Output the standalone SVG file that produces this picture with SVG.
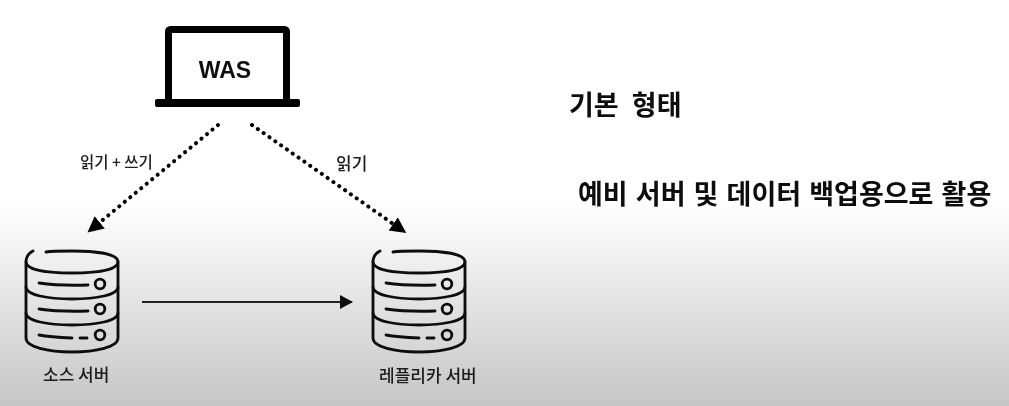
<svg xmlns="http://www.w3.org/2000/svg" xmlns:xlink="http://www.w3.org/1999/xlink" width="1009" height="406" viewBox="0 0 1009 406">
<style>
text{font-family:"Noto Sans CJK KR","Liberation Sans",sans-serif;fill:#1a1a1a}
.s{font-size:17px;font-weight:500}
.h{font-size:27px;font-weight:700;fill:#111}
.db{fill:none;stroke:#111;stroke-width:2.8;stroke-linecap:round}
.dot{fill:none;stroke:#000;stroke-width:4;stroke-linecap:round;stroke-dasharray:0.1 7}
</style>
<defs>
<filter id="soft" filterUnits="userSpaceOnUse" x="0" y="0" width="1009" height="406"><feGaussianBlur stdDeviation="0.4"/></filter>
<linearGradient id="bg" x1="0" y1="0" x2="0" y2="1"><stop offset="0" stop-color="#fff"/><stop offset="0.5" stop-color="#fff"/><stop offset="1" stop-color="#c6c6c6"/></linearGradient>
<marker id="a" markerUnits="userSpaceOnUse" markerWidth="20" markerHeight="20" refX="1" refY="8" orient="auto"><path d="M0 0L16 8L0 16Z" fill="#000"/></marker>
<marker id="b" markerUnits="userSpaceOnUse" markerWidth="16" markerHeight="16" refX="12" refY="7" orient="auto"><path d="M0 0L13 7L0 14Z" fill="#111"/></marker>
<g id="cyl">
<path class="db" d="M33 251C27 254 26 258 26 262C26 270 48 273 72 273C96 273 118 270 118 262C118 254 96 251 72 251C64 251 52 251 46 252"/>
<path class="db" d="M26 262V338C26 347 48 352 72 352C96 352 118 347 118 338V262"/>
<path class="db" d="M26 287C26 295 48 299 72 299C96 299 118 295 118 287"/>
<path class="db" d="M26 313C26 321 48 325 72 325C96 325 118 321 118 313"/>
<path class="db" d="M39 283Q60 286 88 285M39 309Q60 312 88 311M39 335Q50 337 72 338M80 338H87"/>
<circle class="db" cx="100" cy="284" r="4.8"/><circle class="db" cx="100" cy="309" r="4.8"/><circle class="db" cx="100" cy="335" r="4.8"/>
</g>
</defs>
<rect width="1009" height="406" fill="url(#bg)"/>
<g filter="url(#soft)">
<g id="connectors">
<path class="dot" d="M218 125L99 223" marker-end="url(#a)"/>
<path class="dot" d="M252 125L394 224.500" marker-end="url(#a)"/>
<path d="M142 302H352" fill="none" stroke="#222" stroke-width="1.8" marker-end="url(#b)"/>
<text class="s" x="80" y="168" style="font-size:15.500px">읽기 + 쓰기</text>
<text class="s" x="336" y="170">읽기</text>
</g>
<g id="was">
<rect x="168.500" y="29.500" width="118" height="73" rx="2" fill="#fff" stroke="#000" stroke-width="7"/>
<rect x="155" y="99" width="145" height="8" rx="2" fill="#000"/>
<text x="225" y="78" text-anchor="middle" style="font-family:'Liberation Sans',sans-serif;font-size:23px;font-weight:700;fill:#111">WAS</text>
</g>
<g id="source"><use xlink:href="#cyl"/><text class="s" x="43" y="381">소스 서버</text></g>
<g id="replica"><use xlink:href="#cyl" x="347"/><text class="s" x="379" y="382">레플리카 서버</text></g>
<g id="notes">
<text class="h" x="569" y="115" word-spacing="7">기본 형태</text>
<text class="h" x="578" y="204" word-spacing="2">예비 서버 및 데이터 백업용으로 활용</text>
</g>
</g>
</svg>
